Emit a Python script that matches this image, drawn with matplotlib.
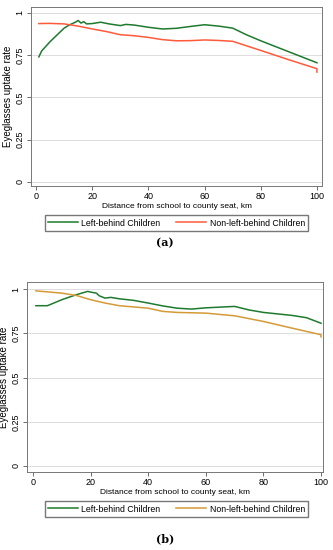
import matplotlib
matplotlib.use("Agg")
import matplotlib.pyplot as plt

plt.rcParams['font.family'] = ['Liberation Sans', 'DejaVu Sans']

# panel (a)
xa_left = [1, 2, 5, 10, 12, 14, 15, 16, 17, 18, 20, 23, 26, 30, 32, 35, 40, 45, 50, 55, 60, 65, 70, 75, 80, 90, 100]
ya_left = [0.74, 0.775, 0.83, 0.91, 0.93, 0.945, 0.955, 0.94, 0.948, 0.935, 0.937, 0.945, 0.935, 0.925, 0.932, 0.928, 0.915, 0.905, 0.909, 0.92, 0.93, 0.922, 0.91, 0.87, 0.835, 0.77, 0.705]
xa_non = [1, 5, 10, 15, 20, 25, 30, 35, 40, 45, 50, 55, 60, 65, 70, 75, 80, 90, 100, 100]
ya_non = [0.937, 0.938, 0.935, 0.922, 0.905, 0.89, 0.871, 0.865, 0.855, 0.842, 0.835, 0.836, 0.84, 0.837, 0.832, 0.805, 0.778, 0.723, 0.67, 0.65]

# panel (b)
xb_left = [1, 5, 10, 15, 19, 20, 22, 23, 25, 27, 30, 35, 40, 45, 50, 55, 60, 65, 70, 75, 80, 90, 95, 100]
yb_left = [0.906, 0.906, 0.94, 0.968, 0.987, 0.983, 0.977, 0.962, 0.949, 0.953, 0.945, 0.936, 0.921, 0.905, 0.892, 0.887, 0.894, 0.898, 0.902, 0.882, 0.868, 0.851, 0.838, 0.807]
xb_non = [1, 10, 15, 20, 25, 30, 40, 45, 50, 60, 70, 80, 90, 100, 100]
yb_non = [0.99, 0.977, 0.964, 0.94, 0.921, 0.906, 0.892, 0.874, 0.868, 0.864, 0.849, 0.817, 0.779, 0.742, 0.73]

yticks = [0, 0.25, 0.5, 0.75, 1]
ytick_labels = ['0', '0.25', '0.5', '0.75', '1']
xticks = [0, 20, 40, 60, 80, 100]
xlabel = 'Distance from school to county seat, km'
ylabel = 'Eyeglasses uptake rate'
series_names = ['Left-behind Children', 'Non-left-behind Children']

W, H = 333, 550
fig = plt.figure(figsize=(W / 100, H / 100), dpi=100)


def px_axes(x0, y0, x1, y1):
    return fig.add_axes([x0 / W, 1 - y1 / H, (x1 - x0) / W, (y1 - y0) / H])


def style(ax, xlim, ylim, ylab_x):
    ax.set_xlim(*xlim)
    ax.set_ylim(*ylim)
    ax.set_yticks(yticks)
    ax.set_yticklabels(ytick_labels, rotation=90, va='center')
    ax.set_xticks(xticks)
    ax.tick_params(labelsize=6.5, length=3, width=0.6, color='#555555', pad=1.5)
    ax.grid(axis='y', color='#dddddd', linewidth=0.7)
    ax.set_axisbelow(True)
    for s in ax.spines.values():
        s.set_color('#777777')
        s.set_linewidth(0.7)
    ax.set_xlabel(xlabel, fontsize=6, labelpad=1)
    ax.set_ylabel(ylabel, fontsize=7)
    ax.yaxis.set_label_coords(ylab_x, 0.5)


def legend(handles, cy):
    fig.legend(handles, series_names, loc='center', bbox_to_anchor=(176.5 / W, 1 - cy / H),
               ncol=2, fontsize=6.3, frameon=True, fancybox=False, edgecolor='#555555',
               handlelength=3.4, columnspacing=1.8, borderpad=0.4, handletextpad=0.4,
               borderaxespad=0)


green = '#1e7a2e'
red = '#ff5a3a'
orange = '#d49a36'

ax1 = px_axes(31, 7, 322, 186)
l1, = ax1.plot(xa_left, ya_left, color=green, lw=1.1)
l2, = ax1.plot(xa_non, ya_non, color=red, lw=1.1)
style(ax1, (-1.8, 101.8), (-0.024, 1.035), (13 - 31) / 291)
legend([l1, l2], 223)
fig.text(165 / W, 1 - 243 / H, '(a)', fontsize=8, fontweight='bold', family='DejaVu Serif',
         ha='center', va='center')

ax2 = px_axes(27, 282, 323, 472)
m1, = ax2.plot(xb_left, yb_left, color=green, lw=1.1)
m2, = ax2.plot(xb_non, yb_non, color=orange, lw=1.1)
style(ax2, (-2.1, 100.7), (-0.034, 1.04), (9 - 27) / 296)
legend([m1, m2], 509)
fig.text(165 / W, 1 - 539 / H, '(b)', fontsize=8, fontweight='bold', family='DejaVu Serif',
         ha='center', va='center')

fig.savefig('out.png', dpi=100)
